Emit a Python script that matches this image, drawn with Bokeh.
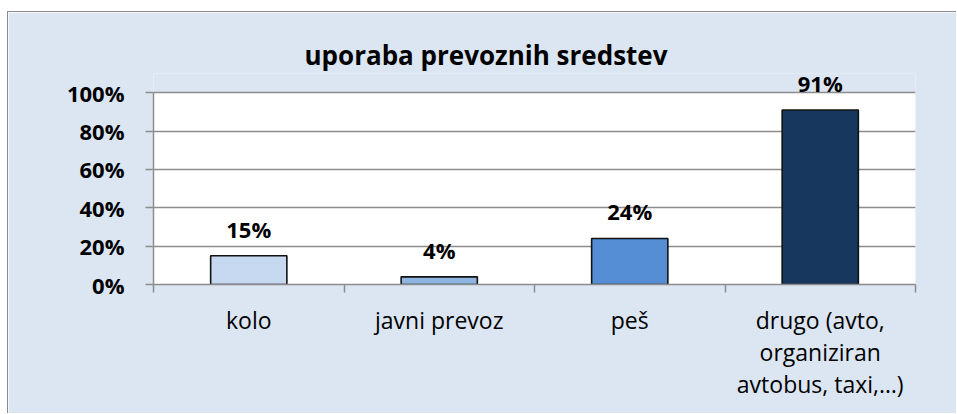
from bokeh.plotting import figure
from bokeh.models import (ColumnDataSource, Range1d, FixedTicker, PrintfTickFormatter,
                          LabelSet, BoxAnnotation)
from bokeh.core.properties import value
from bokeh.embed import file_html
from bokeh.resources import INLINE

# ---- data ----
title_text = "uporaba prevoznih sredstev"
categories = ["kolo", "javni prevoz", "peš", "drugo (avto, organiziran avtobus, taxi,…)"]
category_labels = ["kolo", "javni prevoz", "peš", "drugo (avto,\norganiziran\navtobus, taxi,…)"]
values = [15, 4, 24, 91]
y_ticks = [0, 20, 40, 60, 80, 100]

# ---- styles ----
bar_colors = ["#c6d9f1", "#8db4e2", "#558ed5", "#17375e"]
bg = "#dce6f2"
grid_col = "#8c8c8c"
font = "Open Sans"

xs = [i + 1 for i in range(len(categories))]
src = ColumnDataSource(dict(
    x=xs, top=values, color=bar_colors, cat=categories,
    label=[f"{v}%" for v in values],
))

p = figure(width=949, height=402, output_backend="svg", toolbar_location=None,
           x_range=Range1d(0.5, len(categories) + 0.5), y_range=Range1d(0, 110),
           min_border_left=145, min_border_right=42, min_border_top=61,
           min_border_bottom=130)
p.margin = (11, 0, 0, 7)
p.styles = {"border-left": "1px solid #8c8c8c", "border-top": "1px solid #8c8c8c"}
p.background_fill_color = bg
p.border_fill_color = bg
p.outline_line_color = None

# white plot area from 0% to 100%
p.add_layout(BoxAnnotation(bottom=y_ticks[0], top=y_ticks[-1], fill_color="white",
                           fill_alpha=1, line_color=None, level="image"))

p.title.text = title_text
p.title.align = "left"
p.title.text_font = font
p.title.text_font_size = "26px"
p.title.text_font_style = "bold"
p.title.text_color = "black"
p.title.offset = 151
p.title.standoff = 2

p.vbar(x="x", top="top", width=0.4, source=src, fill_color="color",
       line_color="#111111", line_width=1.6)

labels = LabelSet(x="x", y="top", text="label", source=src, y_offset=18,
                  text_align="center", text_baseline="alphabetic",
                  text_font=value(font), text_font_size=value("22px"),
                  text_font_style=value("bold"), text_color="black")
p.add_layout(labels)

# y axis
p.yaxis.ticker = FixedTicker(ticks=y_ticks)
p.yaxis.bounds = (y_ticks[0], y_ticks[-1])
p.yaxis.formatter = PrintfTickFormatter(format="%d%%")
p.yaxis.major_label_text_font = font
p.yaxis.major_label_text_font_size = "22px"
p.yaxis.major_label_text_font_style = "bold"
p.yaxis.major_label_text_color = "black"
p.yaxis.major_label_standoff = 21
p.yaxis.major_tick_out = 8
p.yaxis.major_tick_in = 0
p.yaxis.minor_tick_line_color = None
p.yaxis.axis_line_color = grid_col
p.yaxis.axis_line_width = 1.5
p.yaxis.major_tick_line_color = grid_col
p.yaxis.major_tick_line_width = 1.5

# x axis: labels at bar centres, tick marks at category boundaries
p.xaxis.ticker = FixedTicker(ticks=xs,
                             minor_ticks=[i + 0.5 for i in range(len(categories) + 1)])
p.xaxis.major_label_overrides = {x: lab for x, lab in zip(xs, category_labels)}
p.xaxis.major_tick_line_color = None
p.xaxis.major_tick_out = 8
p.xaxis.minor_tick_out = 8
p.xaxis.minor_tick_in = 0
p.xaxis.minor_tick_line_color = grid_col
p.xaxis.minor_tick_line_width = 1.5
p.xaxis.axis_line_color = grid_col
p.xaxis.axis_line_width = 1.5
p.xaxis.major_label_text_font = font
p.xaxis.major_label_text_font_size = "23px"
p.xaxis.major_label_text_color = "black"
p.xaxis.major_label_text_line_height = 1.0
p.xaxis.major_label_standoff = 11

p.xgrid.grid_line_color = None
p.ygrid.grid_line_color = grid_col
p.ygrid.grid_line_width = 1.5

open("out.html", "w").write(file_html(p, INLINE))
